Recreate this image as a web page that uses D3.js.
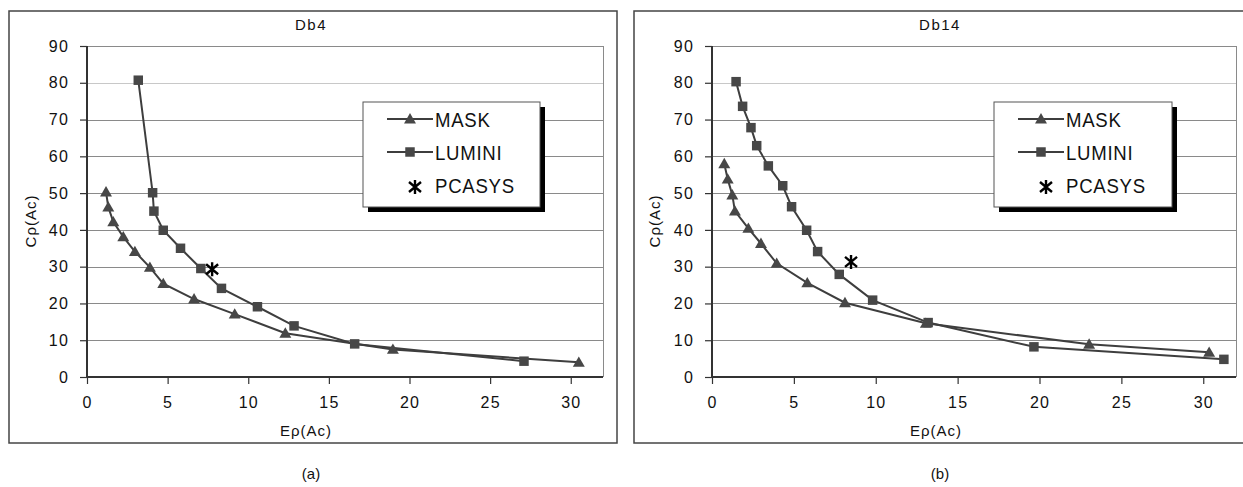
<!DOCTYPE html>
<html>
<head>
<meta charset="utf-8">
<script src="https://cdn.jsdelivr.net/npm/d3@7"></script>
<style>
  body { margin: 0; background: #fff; }
  svg { display: block; font-family: "Liberation Sans", Arial, sans-serif; }
</style>
</head>
<body>
<svg id="chart" width="1243" height="487"></svg>
<script>
// tick values shared by both panels
const xTicks = [0, 5, 10, 15, 20, 25, 30];
const yTicks = [0, 10, 20, 30, 40, 50, 60, 70, 80, 90];

// Db4 (a)
const db4MaskX = [1.18, 1.32, 1.63, 2.25, 2.97, 3.9, 4.73, 6.64, 9.16, 12.3, 18.97, 30.5];
const db4MaskY = [50.3, 46.2, 42.2, 38.1, 34.1, 29.8, 25.4, 21.2, 17.1, 11.9, 7.5, 4.0];
const db4LuminiX = [3.18, 4.07, 4.15, 4.73, 5.8, 7.06, 8.34, 10.57, 12.84, 16.6, 27.1];
const db4LuminiY = [80.7, 50.1, 45.1, 39.9, 35.0, 29.5, 24.1, 19.1, 13.9, 9.0, 4.3];
const db4Pcasys = [7.76, 29.3];

// Db14 (b)
const db14MaskX = [0.75, 0.96, 1.24, 1.40, 2.22, 2.99, 3.95, 5.82, 8.12, 13.06, 23.03, 30.36];
const db14MaskY = [58.0, 53.8, 49.5, 45.1, 40.4, 36.3, 30.9, 25.6, 20.2, 14.6, 8.9, 6.7];
const db14LuminiX = [1.47, 1.87, 2.38, 2.73, 3.44, 4.32, 4.86, 5.78, 6.45, 7.77, 9.81, 13.2, 19.66, 31.26];
const db14LuminiY = [80.3, 73.6, 67.8, 62.9, 57.4, 52.0, 46.3, 39.9, 34.1, 27.9, 20.9, 14.8, 8.2, 4.8];
const db14Pcasys = [8.49, 31.3];

const legendNames = ['MASK', 'LUMINI', 'PCASYS'];

const svg = d3.select('#chart');
const lineColor = '#3e3e3e';
const markColor = '#474747';

const triangle = d3.symbol().type(d3.symbolTriangle).size(62);
const square = d3.symbol().type(d3.symbolSquare).size(90);
const asterisk = 'M0,-7L0,7M-6,-5L6,5M-6,5L6,-5';

function zip(xs, ys) {
    return xs.map((x, i) => ({ x: x, y: ys[i] }));
}

function drawPanel(p) {
    const g = svg.append('g');

    // outer frame
    g.append('rect')
        .attr('x', p.box.x).attr('y', p.box.y)
        .attr('width', p.box.w).attr('height', p.box.h)
        .attr('fill', 'none')
        .attr('stroke', '#444')
        .attr('stroke-width', 1.5);

    const x = d3.scaleLinear().domain([0, 32]).range([p.l, p.r]);
    const y = d3.scaleLinear().domain([0, 90]).range([p.b, p.t]);

    // gridlines
    g.append('g')
        .selectAll('line')
        .data(yTicks.slice(1))
        .join('line')
        .attr('x1', p.l).attr('x2', p.r)
        .attr('y1', d => Math.round(y(d)) + 0.5)
        .attr('y2', d => Math.round(y(d)) + 0.5)
        .attr('stroke', d => d === 80 ? '#c8c8c8' : '#8a8a8a')
        .attr('stroke-width', 1);

    // plot area right border
    g.append('line')
        .attr('x1', p.r + 0.5).attr('x2', p.r + 0.5)
        .attr('y1', p.t).attr('y2', p.b)
        .attr('stroke', '#8a8a8a');

    // axes
    const xAxis = g.append('g')
        .attr('transform', `translate(0,${p.b})`)
        .call(d3.axisBottom(x).tickValues(xTicks).tickSize(7).tickPadding(13));
    const yAxis = g.append('g')
        .attr('transform', `translate(${p.l},0)`)
        .call(d3.axisLeft(y).tickValues(yTicks).tickSize(7).tickPadding(11));

    [xAxis, yAxis].forEach(a => {
        a.select('.domain').attr('stroke', '#333').attr('stroke-width', 2);
        a.selectAll('.tick line').attr('stroke', '#333').attr('stroke-width', 1.2);
        a.selectAll('.tick text')
            .attr('fill', '#111')
            .style('font-size', '16px')
            .style('letter-spacing', '1.2px')
            .style('font-family', '"Liberation Sans", Arial, sans-serif');
    });
    xAxis.select('.domain').attr('d', `M${p.l},0H${p.r}`);
    yAxis.select('.domain').attr('d', `M0,${p.b}V${p.t}`);

    // series lines
    const line = d3.line().x(d => x(d.x)).y(d => y(d.y));
    [p.mask, p.lumini].forEach(s => {
        g.append('path')
            .datum(s)
            .attr('d', line)
            .attr('fill', 'none')
            .attr('stroke', lineColor)
            .attr('stroke-width', 2);
    });

    g.append('g')
        .selectAll('path')
        .data(p.mask)
        .join('path')
        .attr('d', triangle)
        .attr('transform', d => `translate(${x(d.x)},${y(d.y) + 1})`)
        .attr('fill', markColor);

    g.append('g')
        .selectAll('path')
        .data(p.lumini)
        .join('path')
        .attr('d', square)
        .attr('transform', d => `translate(${x(d.x)},${y(d.y)})`)
        .attr('fill', markColor);

    g.append('path')
        .attr('d', asterisk)
        .attr('transform', `translate(${x(p.pcasys[0])},${y(p.pcasys[1])})`)
        .attr('stroke', '#000')
        .attr('stroke-width', 2.4)
        .attr('fill', 'none');

    // titles and labels
    g.append('text')
        .attr('x', p.titleX).attr('y', 30)
        .attr('text-anchor', 'middle')
        .attr('font-size', 15)
        .style('letter-spacing', '1.5px')
        .attr('fill', '#111')
        .text(p.title);

    g.append('text')
        .attr('x', p.xLabelX).attr('y', 436)
        .attr('text-anchor', 'middle')
        .attr('font-size', 15)
        .style('letter-spacing', '1px')
        .attr('fill', '#111')
        .text('Eρ(Ac)');

    g.append('text')
        .attr('transform', `translate(${p.yLabelX},221) rotate(-90)`)
        .attr('text-anchor', 'middle')
        .attr('font-size', 15)
        .style('letter-spacing', '1px')
        .attr('fill', '#111')
        .text('Cρ(Ac)');

    g.append('text')
        .attr('x', p.titleX).attr('y', 479)
        .attr('text-anchor', 'middle')
        .attr('font-size', 15)
        .attr('fill', '#111')
        .text(p.caption);

    // legend
    const lg = g.append('g').attr('transform', `translate(${p.legend.x},${p.legend.y})`);
    lg.append('rect')
        .attr('x', 5).attr('y', 5)
        .attr('width', p.legend.w).attr('height', p.legend.h)
        .attr('fill', '#000');
    lg.append('rect')
        .attr('width', p.legend.w).attr('height', p.legend.h)
        .attr('fill', '#fff')
        .attr('stroke', '#555')
        .attr('stroke-width', 1);

    const rows = lg.selectAll('g.row')
        .data(legendNames)
        .join('g')
        .attr('transform', (d, i) => `translate(0,${17 + i * 33})`);

    rows.filter((d, i) => i < 2)
        .append('line')
        .attr('x1', 24).attr('x2', 70)
        .attr('stroke', lineColor)
        .attr('stroke-width', 2);

    rows.append('path')
        .attr('d', (d, i) => i === 0 ? triangle() : i === 1 ? square() : asterisk)
        .attr('transform', (d, i) => `translate(${i === 2 ? 52 : 47},${i === 0 ? 1 : i === 1 ? 0 : 2})`)
        .attr('fill', (d, i) => i === 2 ? 'none' : markColor)
        .attr('stroke', (d, i) => i === 2 ? '#000' : 'none')
        .attr('stroke-width', 2.4);

    rows.append('text')
        .attr('x', 72)
        .attr('y', 7.5)
        .attr('font-size', 20)
        .style('letter-spacing', '0.8px')
        .attr('fill', '#111')
        .attr('transform', 'translate(72,0) scale(0.93,1) translate(-72,0)')
        .text(d => d);
}

drawPanel({
    box: { x: 9, y: 11, w: 608, h: 432 },
    l: 87, r: 603, t: 46, b: 377,
    title: 'Db4', titleX: 311, caption: '(a)',
    xLabelX: 306, yLabelX: 36,
    legend: { x: 363, y: 102, w: 177, h: 105 },
    mask: zip(db4MaskX, db4MaskY),
    lumini: zip(db4LuminiX, db4LuminiY),
    pcasys: db4Pcasys
});

drawPanel({
    box: { x: 634, y: 11, w: 620, h: 432 },
    l: 712, r: 1236, t: 46, b: 377,
    title: 'Db14', titleX: 940, caption: '(b)',
    xLabelX: 936, yLabelX: 660,
    legend: { x: 994, y: 102, w: 178, h: 105 },
    mask: zip(db14MaskX, db14MaskY),
    lumini: zip(db14LuminiX, db14LuminiY),
    pcasys: db14Pcasys
});
</script>
</body>
</html>
